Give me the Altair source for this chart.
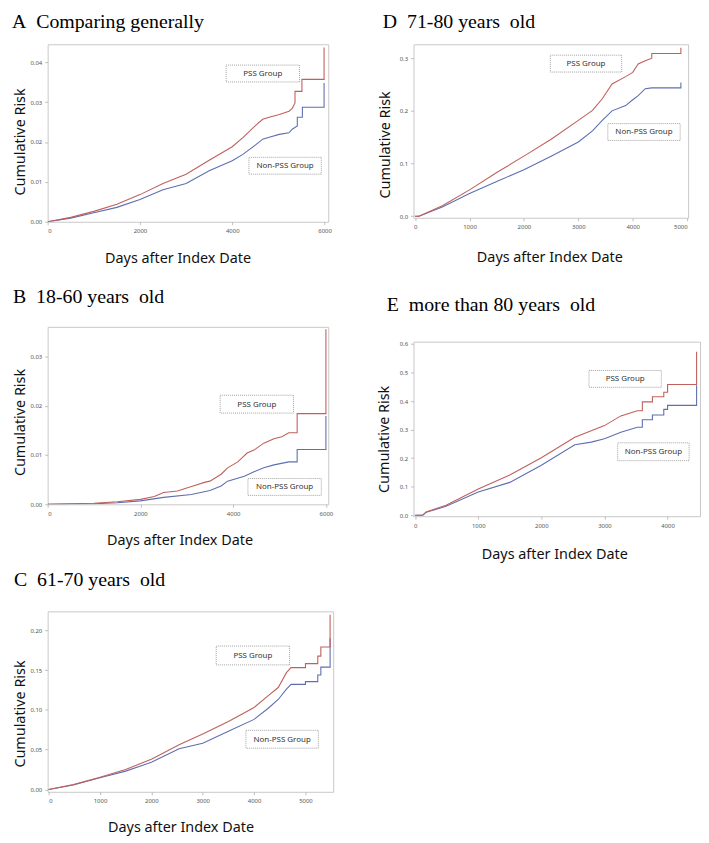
import altair as alt
import pandas as pd

# ---------------- data ----------------
A_PSS_DAYS = [0, 500, 1000, 1500, 2000, 2500, 3000, 3500, 4000, 4230, 4520, 4660, 4800, 5020, 5230, 5300, 5360, 5360, 5510, 5510, 5990, 5990]
A_PSS_RISK = [0, 0.0011, 0.0026, 0.0044, 0.0068, 0.0096, 0.0119, 0.0154, 0.0188, 0.0211, 0.0243, 0.0257, 0.0262, 0.0269, 0.0277, 0.0284, 0.0298, 0.0327, 0.0327, 0.0357, 0.0357, 0.0437]
A_NON_DAYS = [0, 500, 1000, 1500, 2000, 2500, 3000, 3500, 4000, 4230, 4520, 4660, 4800, 5020, 5230, 5300, 5410, 5410, 5520, 5520, 5990, 5990]
A_NON_RISK = [0, 0.0009, 0.00225, 0.0036, 0.0056, 0.0080, 0.0096, 0.0128, 0.0153, 0.0169, 0.0194, 0.0207, 0.0212, 0.0219, 0.0223, 0.0232, 0.0240, 0.0262, 0.0262, 0.0287, 0.0287, 0.0348]

B_PSS_DAYS = [0, 1000, 1500, 2000, 2300, 2500, 2800, 3100, 3400, 3500, 3740, 3880, 4100, 4300, 4450, 4660, 4880, 5050, 5200, 5380, 5380, 6000, 6000]
B_PSS_RISK = [0, 0.0002, 0.0005, 0.001, 0.0016, 0.0024, 0.0027, 0.0036, 0.0045, 0.0047, 0.0061, 0.0074, 0.0086, 0.0104, 0.011, 0.0124, 0.0133, 0.0137, 0.0145, 0.0145, 0.0184, 0.0184, 0.0355]
B_NON_DAYS = [0, 1000, 1500, 2000, 2500, 3100, 3500, 3740, 3880, 4240, 4450, 4660, 4880, 5200, 5380, 5380, 6000, 6000]
B_NON_RISK = [0, 0.0001, 0.0003, 0.0007, 0.0014, 0.002, 0.0028, 0.0037, 0.0047, 0.0057, 0.0066, 0.0074, 0.008, 0.0086, 0.0086, 0.0111, 0.0111, 0.0179]

C_PSS_DAYS = [0, 480, 1000, 1500, 2000, 2540, 3000, 3500, 4000, 4270, 4470, 4630, 4720, 5000, 5000, 5240, 5240, 5300, 5300, 5480, 5480]
C_PSS_RISK = [0, 0.006, 0.0154, 0.025, 0.038, 0.056, 0.0696, 0.0854, 0.103, 0.1175, 0.128, 0.1467, 0.153, 0.153, 0.158, 0.158, 0.1675, 0.1675, 0.179, 0.179, 0.2196]
C_NON_DAYS = [0, 480, 1000, 1500, 2000, 2540, 3000, 3500, 4000, 4270, 4470, 4630, 4720, 5000, 5000, 5240, 5240, 5300, 5300, 5480, 5480]
C_NON_RISK = [0, 0.0055, 0.0146, 0.023, 0.034, 0.051, 0.058, 0.073, 0.088, 0.1017, 0.113, 0.126, 0.132, 0.132, 0.1354, 0.1354, 0.1437, 0.1437, 0.1537, 0.1537, 0.19]

D_PSS_DAYS = [0, 70, 500, 1000, 1500, 2000, 2500, 3000, 3260, 3440, 3620, 3870, 4000, 4100, 4230, 4350, 4350, 4885, 4885]
D_PSS_RISK = [0, 0, 0.020, 0.050, 0.083, 0.114, 0.146, 0.182, 0.201, 0.223, 0.251, 0.265, 0.273, 0.289, 0.295, 0.300, 0.309, 0.309, 0.320]
D_NON_DAYS = [0, 70, 500, 1000, 1500, 2000, 2500, 3000, 3260, 3440, 3620, 3870, 4000, 4100, 4230, 4350, 4885, 4885]
D_NON_RISK = [0, 0, 0.0176, 0.043, 0.066, 0.088, 0.114, 0.141, 0.162, 0.182, 0.200, 0.210, 0.221, 0.229, 0.242, 0.2436, 0.2436, 0.254]

E_PSS_DAYS = [0, 120, 175, 490, 1000, 1500, 2000, 2530, 2790, 3000, 3260, 3520, 3600, 3600, 3760, 3760, 3940, 3940, 4000, 4000, 4460, 4460]
E_PSS_RISK = [0, 0, 0.0115, 0.035, 0.092, 0.141, 0.201, 0.273, 0.296, 0.314, 0.348, 0.366, 0.366, 0.397, 0.397, 0.415, 0.415, 0.431, 0.431, 0.458, 0.458, 0.573]
E_NON_DAYS = [0, 120, 175, 490, 1000, 1500, 2000, 2530, 2790, 3000, 3260, 3520, 3600, 3600, 3760, 3760, 3940, 3940, 4000, 4000, 4460, 4460]
E_NON_RISK = [0, 0, 0.010, 0.031, 0.081, 0.115, 0.175, 0.247, 0.256, 0.268, 0.291, 0.308, 0.308, 0.3345, 0.3345, 0.351, 0.351, 0.371, 0.371, 0.385, 0.385, 0.455]

TITLES = ["A\u00a0 Comparing generally", "B\u00a0 18-60 years\u00a0 old", "C\u00a0 61-70 years\u00a0 old",
          "D\u00a0 71-80 years\u00a0 old", "E\u00a0 more than 80 years\u00a0 old"]
GROUPS = ["PSS Group", "Non-PSS Group"]
X_TITLE = "Days after Index Date"
Y_TITLE = "Cumulative Risk"

RED = "#c0605c"
BLUE = "#5e6fb0"
SANS = "Noto Sans"
SERIF = "Liberation Serif"


def series_df(days, risk, group):
    return pd.DataFrame({"day": days, "risk": risk, "group": group, "idx": list(range(len(days)))})


def panel(title, pss, non, xdom, ydom, xticks, yticks, yfmt, w, h, boxes, t):
    xs = alt.Scale(domain=xdom, nice=False, zero=False)
    ys = alt.Scale(domain=ydom, nice=False, zero=False)
    xax = alt.Axis(values=xticks, format="d", title=X_TITLE, titleX=t["xtx"], titleY=t["xty"],
                   titleBaseline="alphabetic", titleAlign="center")
    yax = alt.Axis(values=yticks, format=yfmt, title=Y_TITLE, titleX=t["ytx"], titleY=t["yty"],
                   titleBaseline="middle", titleAlign="center", titleAngle=-90)
    layers = []
    for df, col in ((series_df(non[0], non[1], GROUPS[1]), BLUE), (series_df(pss[0], pss[1], GROUPS[0]), RED)):
        layers.append(
            alt.Chart(df).mark_line(color=col, strokeWidth=1.1, clip=True).encode(
                x=alt.X("day:Q", scale=xs, axis=xax),
                y=alt.Y("risk:Q", scale=ys, axis=yax),
                order="idx:Q",
            )
        )
    for label, (x1, y1, x2, y2) in zip(GROUPS, boxes):
        bdf = pd.DataFrame({"label": [label]})
        layers.append(
            alt.Chart(bdf).mark_rect(fill="white", stroke="#8a8a8a", strokeDash=[1, 1], strokeWidth=0.8).encode(
                x=alt.value(x1), x2=alt.value(x2), y=alt.value(y1), y2=alt.value(y2)
            )
        )
        layers.append(
            alt.Chart(bdf).mark_text(font=SANS, fontSize=8, color="#333333", baseline="middle", align="center").encode(
                x=alt.value((x1 + x2) / 2), y=alt.value((y1 + y2) / 2 + 0.5), text="label:N"
            )
        )
    tdf = pd.DataFrame({"title": [title]})
    layers.append(
        alt.Chart(tdf).mark_text(font=SERIF, fontSize=20, color="black", baseline="alphabetic", align="left").encode(
            x=alt.value(t["tx"]), y=alt.value(t["ty"]), text="title:N"
        )
    )
    return alt.layer(*layers).properties(width=w, height=h)


pA = panel(TITLES[0], (A_PSS_DAYS, A_PSS_RISK), (A_NON_DAYS, A_NON_RISK), [0, 6080], [0, 0.0445],
           [0, 2000, 4000, 6000], [0, 0.01, 0.02, 0.03, 0.04], ".2f", 283, 179,
           [(180, 21, 254, 38), (203, 114, 276, 131)],
           dict(xtx=131, xty=41, ytx=-27, yty=98, tx=-36, ty=-16))
pB = panel(TITLES[1], (B_PSS_DAYS, B_PSS_RISK), (B_NON_DAYS, B_NON_RISK), [0, 6050], [0, 0.036],
           [0, 2000, 4000, 6000], [0, 0.01, 0.02, 0.03], ".2f", 283, 179,
           [(174, 69, 248, 87), (202, 153, 276, 170)],
           dict(xtx=133, xty=41, ytx=-27, yty=96, tx=-35, ty=-24))
pC = panel(TITLES[2], (C_PSS_DAYS, C_PSS_RISK), (C_NON_DAYS, C_NON_RISK), [-19, 5540], [-0.003, 0.2237],
           [0, 1000, 2000, 3000, 4000, 5000], [0, 0.05, 0.10, 0.15, 0.20], ".2f", 288, 182,
           [(170, 35, 244, 54), (200, 120, 273, 138)],
           dict(xtx=134, xty=40, ytx=-27, yty=103, tx=-34, ty=-26))
pD = panel(TITLES[3], (D_PSS_DAYS, D_PSS_RISK), (D_NON_DAYS, D_NON_RISK), [-30, 5018], [-0.003, 0.3264],
           [0, 1000, 2000, 3000, 4000, 5000], [0, 0.1, 0.2, 0.3], ".1f", 277, 175,
           [(138, 11, 210, 28), (196, 80, 269, 97)],
           dict(xtx=137, xty=44, ytx=-28, yty=101, tx=-31, ty=-16))
pE = panel(TITLES[4], (E_PSS_DAYS, E_PSS_RISK), (E_NON_DAYS, E_NON_RISK), [-26, 4514], [-0.0035, 0.608],
           [0, 1000, 2000, 3000, 4000], [0, 0.1, 0.2, 0.3, 0.4, 0.5, 0.6], ".1f", 289, 176,
           [(177, 29, 250, 46), (206, 102, 278, 120)],
           dict(xtx=142, xty=43, ytx=-29, yty=98, tx=-27, ty=-31))

chart = alt.hconcat(
    alt.vconcat(pA, pB, pC, spacing=21),
    alt.vconcat(pD, pE, spacing=30),
    spacing=42,
).properties(padding={"left": 3, "top": 0, "right": 0, "bottom": 0}, background="white"
).configure_view(stroke="#c8c8c8", strokeWidth=1
).configure_axis(
    grid=False, domain=False, tickSize=3, tickColor="#b0b0b0", tickWidth=0.8,
    labelFont=SANS, labelFontSize=6, labelColor="#555555", labelPadding=3,
    titleFont=SANS, titleFontSize=14.5, titleFontWeight="normal", titleColor="#111111",
)

chart.save("out.html", embed_options={"renderer": "svg", "actions": False})
